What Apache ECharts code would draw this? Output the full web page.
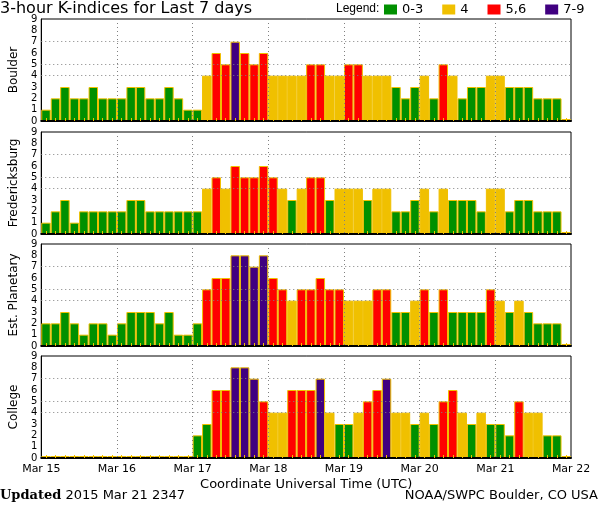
<!DOCTYPE html>
<html><head><meta charset="utf-8">
<script src="https://cdn.jsdelivr.net/npm/echarts@6/dist/echarts.min.js"></script>
<style>html,body{margin:0;padding:0;background:#fff}#c{width:600px;height:510px}</style>
</head><body><div id="c"></div>
<script>
// ---- data ----
const stations = ['Boulder', 'Fredericksburg', 'Est. Planetary', 'College'];
const dayLabels = ['Mar 15', 'Mar 16', 'Mar 17', 'Mar 18', 'Mar 19', 'Mar 20', 'Mar 21', 'Mar 22'];
const hourLabels = ['00', '03', '06', '09', '12', '15', '18', '21'];
const boulder = [
  1,2,3,2,2,3,2,2,  2,3,3,2,2,3,2,1,  1,4,6,5,7,6,5,6,  4,4,4,4,5,5,4,4,
  5,5,4,4,4,3,2,3,  4,2,5,4,2,3,3,4,  4,3,3,3,2,2,2,0];
const fredericksburg = [
  1,2,3,1,2,2,2,2,  2,3,3,2,2,2,2,2,  2,4,5,4,6,5,5,6,  5,4,3,4,5,5,3,4,
  4,4,3,4,4,2,2,3,  4,2,4,3,3,3,2,4,  4,2,3,3,2,2,2,0];
const planetary = [
  2,2,3,2,1,2,2,1,  2,3,3,3,2,3,1,1,  2,5,6,6,8,8,7,8,  6,5,4,5,5,6,5,5,
  4,4,4,5,5,3,3,4,  5,3,5,3,3,3,3,5,  4,3,4,3,2,2,2,0];
const college = [
  0,0,0,0,0,0,0,0,  0,0,0,0,0,0,0,0,  2,3,6,6,8,8,7,5,  4,4,6,6,6,7,4,3,
  3,4,5,6,7,4,4,3,  4,3,5,6,4,3,4,3,  3,2,5,4,4,2,2,0];
const legendNames = ['0-3', '4', '5,6', '7-9'];
const legendColors = ['#009000', '#f0c000', '#ff0000', '#400080'];
const gridLevels = [4, 5, 7];
const yTicks = [0, 1, 2, 3, 4, 5, 6, 7, 8, 9];

// ---- build ----
const panels = [boulder, fredericksburg, planetary, college];
const categories = [];
dayLabels.slice(0, 7).forEach(d => hourLabels.forEach(h => categories.push(d + ' ' + h)));
const cls = v => v <= 3 ? 0 : (v === 4 ? 1 : (v <= 6 ? 2 : 3));
const tops = [19, 132, 244, 356];
const grid = [], xAxis = [], yAxis = [], series = [];
panels.forEach((vals, i) => {
  grid.push({left: 37, width: 534, top: tops[i], height: 102, show: true, borderColor: '#000', borderWidth: 1});
  xAxis.push({
    type: 'category', gridIndex: i, data: categories, boundaryGap: true, z: 4,
    axisLine: {lineStyle: {color: '#000', width: 2}},
    axisTick: {show: true, inside: true, alignWithLabel: true, interval: 0, length: 3, lineStyle: {color: '#f0c000', width: 1}},
    axisLabel: {show: false}, splitLine: {show: false}
  });
  xAxis.push({
    type: 'value', gridIndex: i, min: 0, max: categories.length, interval: hourLabels.length, position: 'bottom', z: 3,
    axisLine: {show: false}, axisTick: {show: false},
    splitLine: {show: true, showMinLine: false, showMaxLine: false, lineStyle: {color: '#808080', width: 1, type: [1, 3]}},
    axisLabel: {show: i === panels.length - 1, color: '#000', fontSize: 11, margin: 6, fontFamily: 'DejaVu Sans',
      formatter: v => dayLabels[Math.round(v / hourLabels.length)]},
    name: i === panels.length - 1 ? 'Coordinate Universal Time (UTC)' : '', nameLocation: 'middle', nameGap: 20,
    nameTextStyle: {color: '#000', fontSize: 13, fontFamily: 'DejaVu Sans'}
  });
  yAxis.push({
    type: 'value', gridIndex: i, min: yTicks[0], max: yTicks[yTicks.length - 1], interval: 1,
    axisLine: {show: true, lineStyle: {color: '#000', width: 1}}, axisTick: {show: false}, splitLine: {show: false},
    axisLabel: {color: '#000', fontSize: 10, margin: 4, fontFamily: 'DejaVu Sans'},
    name: stations[i], nameLocation: 'middle', nameGap: 21,
    nameTextStyle: {color: '#000', fontSize: 12, fontFamily: 'DejaVu Sans'}
  });
  legendNames.forEach((name, c) => {
    series.push({
      type: 'bar', name: name, xAxisIndex: 2 * i, yAxisIndex: i,
      data: vals.map(v => cls(v) === c ? v : '-'),
      barGap: '-100%', barCategoryGap: 0, barMinHeight: 2,
      itemStyle: {color: legendColors[c], borderColor: '#f0c000', borderWidth: 1},
      emphasis: {disabled: true}, animation: false,
      markLine: c === 0 ? {
        silent: true, symbol: ['none', 'none'], label: {show: false}, animation: false,
        lineStyle: {color: '#808080', width: 1, type: [1, 3]},
        data: gridLevels.map(v => ({yAxis: v}))
      } : undefined
    });
  });
});

const chart = echarts.init(document.getElementById('c'), null, {renderer: 'canvas'});
chart.setOption({
  animation: false,
  textStyle: {fontFamily: 'DejaVu Sans'},
  grid, xAxis, yAxis, series,
  legend: {
    data: legendNames, left: 384, top: 3, padding: 0, itemWidth: 13, itemHeight: 10, itemGap: 19, icon: 'rect',
    itemStyle: {borderWidth: 0},
    selectedMode: false, textStyle: {color: '#000', fontSize: 13, fontFamily: 'DejaVu Sans'}
  },
  graphic: [
    {type: 'text', left: 0, top: 1, style: {text: '3-hour K-indices for Last 7 days', fontSize: 16, fontFamily: 'DejaVu Sans', fill: '#000'}},
    {type: 'text', left: 336, top: 3, style: {text: 'Legend:', fontSize: 12, fontFamily: 'Liberation Sans', fill: '#000'}},
    {type: 'text', left: 0, top: 489, style: {
      text: '{b|Updated} 2015 Mar 21 2347', fontSize: 13, fontFamily: 'DejaVu Sans', fill: '#000',
      rich: {b: {fontFamily: 'DejaVu Serif', fontWeight: 'bold', fontSize: 13, fill: '#000'}}}},
    {type: 'text', right: 2, top: 489, style: {text: 'NOAA/SWPC Boulder, CO USA', fontSize: 13, fontFamily: 'DejaVu Sans', fill: '#000'}}
  ]
});
</script></body></html>
